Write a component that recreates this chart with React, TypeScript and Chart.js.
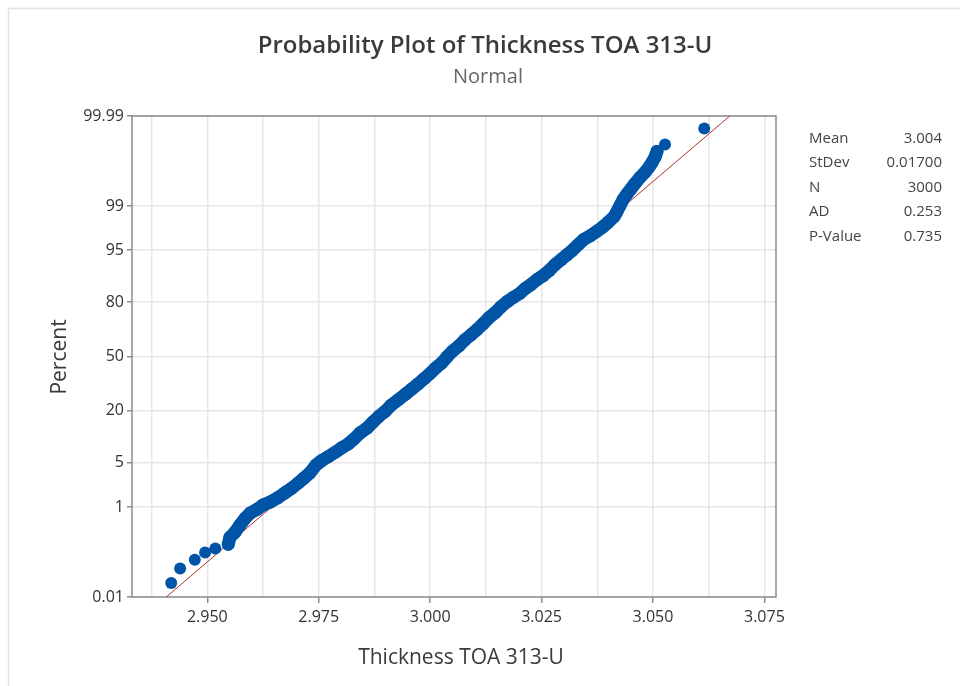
import React, { useEffect, useRef } from "react";
import { Chart, registerables } from "chart.js";

Chart.register(...registerables);

// ---------- data ----------
const chartTitle = "Probability Plot of Thickness TOA 313-U";
const chartSubtitle = "Normal";
const xAxisTitle = "Thickness TOA 313-U";
const yAxisTitle = "Percent";

// isolated low-tail observations
const lowTailThickness = [2.9419, 2.9439, 2.9472, 2.9495, 2.9518];
const lowTailPercent = [0.023, 0.052, 0.084, 0.122, 0.149];

// dense body of the sample (read along the band of points)
const bandThickness = [
  2.9547, 2.9551, 2.9562, 2.9573, 2.9585, 2.9596, 2.9612, 2.9625, 2.9641, 2.9659,
  2.9674, 2.969, 2.9704, 2.9717, 2.973, 2.9744, 2.9757, 2.9771, 2.9787, 2.9802,
  2.9816, 2.9829, 2.9843, 2.9859, 2.9872, 2.9886, 2.9899, 2.9912, 2.9928, 2.9944,
  2.9959, 2.9973, 2.9986, 3.0, 3.0013, 3.0025, 3.0038, 3.0051, 3.0065, 3.0078,
  3.0092, 3.0105, 3.0119, 3.0132, 3.0146, 3.0159, 3.0173, 3.0186, 3.02, 3.0213,
  3.0226, 3.024, 3.0253, 3.0267, 3.028, 3.0294, 3.0307, 3.0318, 3.0332, 3.0345,
  3.0359, 3.0372, 3.0386, 3.0399, 3.0413, 3.0419, 3.0426, 3.0433, 3.0442, 3.0451,
  3.046, 3.0471, 3.0482, 3.0491, 3.0498, 3.0505, 3.0509,
];
const bandPercent = [
  0.185, 0.26, 0.33, 0.455, 0.62, 0.77, 0.91, 1.08, 1.22, 1.46,
  1.75, 2.1, 2.52, 3.01, 3.58, 4.67, 5.39, 6.07, 6.93, 7.93,
  8.81, 10.1, 11.9, 13.5, 15.6, 17.9, 19.8, 22.5, 25.1, 27.9,
  30.8, 33.6, 36.5, 39.7, 43.1, 45.8, 49.8, 53.5, 56.6, 60.2,
  63.2, 66.1, 69.4, 72.6, 75.1, 77.9, 80.2, 81.9, 83.4, 85.3,
  86.7, 88.3, 89.4, 90.8, 92.2, 93.3, 94.2, 94.9, 95.8, 96.5,
  96.9, 97.3, 97.7, 98.09, 98.48, 98.75, 99.02, 99.24, 99.41, 99.53,
  99.63, 99.72, 99.78, 99.83, 99.866, 99.9, 99.924,
];

// isolated high-tail observations
const highTailThickness = [3.0527, 3.0615];
const highTailPercent = [99.948, 99.979];

// fitted normal line
const fitMean = 3.004;
const fitStDev = 0.017;

// statistics table
const statLabels = ["Mean", "StDev", "N", "AD", "P-Value"];
const statValues = ["3.004", "0.01700", "3000", "0.253", "0.735"];

// axes
const xMin = 2.9331;
const xMax = 3.0776;
const xGridValues = [2.9375, 2.95, 2.9625, 2.975, 2.9875, 3.0, 3.0125, 3.025, 3.0375, 3.05, 3.0625, 3.075];
const xLabelValues = [2.95, 2.975, 3.0, 3.025, 3.05, 3.075];
const yTickPercents = [0.01, 1, 5, 20, 50, 80, 95, 99, 99.99];
const yTickLabels = ["0.01", "1", "5", "20", "50", "80", "95", "99", "99.99"];

// ---------- helpers ----------
function probit(p: number): number {
  const a = [-3.969683028665376e1, 2.209460984245205e2, -2.759285104469687e2, 1.38357751867269e2, -3.066479806614716e1, 2.506628277459239];
  const b = [-5.447609879822406e1, 1.615858368580409e2, -1.556989798598866e2, 6.680131188771972e1, -1.328068155288572e1];
  const c = [-7.784894002430293e-3, -3.223964580411365e-1, -2.400758277161838, -2.549732539343734, 4.374664141464968, 2.938163982698783];
  const d = [7.784695709041462e-3, 3.224671290700398e-1, 2.445134137142996, 3.754408661907416];
  const pl = 0.02425;
  const ph = 1 - pl;
  if (p < pl) {
    const q = Math.sqrt(-2 * Math.log(p));
    return (((((c[0] * q + c[1]) * q + c[2]) * q + c[3]) * q + c[4]) * q + c[5]) / ((((d[0] * q + d[1]) * q + d[2]) * q + d[3]) * q + 1);
  }
  if (p <= ph) {
    const q = p - 0.5;
    const r = q * q;
    return ((((((a[0] * r + a[1]) * r + a[2]) * r + a[3]) * r + a[4]) * r + a[5]) * q) / (((((b[0] * r + b[1]) * r + b[2]) * r + b[3]) * r + b[4]) * r + 1);
  }
  const q = Math.sqrt(-2 * Math.log(1 - p));
  return -(((((c[0] * q + c[1]) * q + c[2]) * q + c[3]) * q + c[4]) * q + c[5]) / ((((d[0] * q + d[1]) * q + d[2]) * q + d[3]) * q + 1);
}

const toPoints = (xs: number[], ps: number[]) => xs.map((x, i) => ({ x, y: probit(ps[i] / 100) }));

const FONT = "'Open Sans', 'Noto Sans', sans-serif";
const BLUE = "#0054a6";

const textPlugin = {
  id: "textPlugin",
  beforeDraw(chart: any) {
    const ctx = chart.ctx;
    ctx.save();
    ctx.fillStyle = "#ffffff";
    ctx.fillRect(0, 0, chart.width, chart.height);
    ctx.strokeStyle = "#e2e2e2";
    ctx.lineWidth = 1.5;
    ctx.beginPath();
    ctx.moveTo(8.5, chart.height);
    ctx.lineTo(8.5, 8.5);
    ctx.lineTo(chart.width, 8.5);
    ctx.stroke();
    ctx.restore();
  },
  beforeDatasetsDraw(chart: any) {
    const { ctx, chartArea } = chart;
    ctx.save();
    ctx.strokeStyle = "#8c8c8c";
    ctx.lineWidth = 1.5;
    ctx.strokeRect(chartArea.left, chartArea.top, chartArea.right - chartArea.left, chartArea.bottom - chartArea.top);
    ctx.restore();
  },
  afterDraw(chart: any) {
    const ctx = chart.ctx;
    ctx.save();
    ctx.textAlign = "center";
    ctx.textBaseline = "alphabetic";
    ctx.fillStyle = "#3a3a3a";
    ctx.font = `600 24px ${FONT}`;
    ctx.fillText(chartTitle, 485, 53);
    ctx.fillStyle = "#666666";
    ctx.font = `20px ${FONT}`;
    ctx.fillText(chartSubtitle, 488, 83);
    ctx.fillStyle = "#3a3a3a";
    ctx.font = `21px ${FONT}`;
    ctx.fillText(xAxisTitle, 461, 664);
    ctx.save();
    ctx.translate(66, 357);
    ctx.rotate(-Math.PI / 2);
    ctx.fillText(yAxisTitle, 0, 0);
    ctx.restore();
    ctx.font = `15px ${FONT}`;
    ctx.fillStyle = "#444444";
    statLabels.forEach((lab, i) => {
      const y = 143 + i * 24.4;
      ctx.textAlign = "left";
      ctx.fillText(lab, 809, y);
      ctx.textAlign = "right";
      ctx.fillText(statValues[i], 942, y);
    });
    ctx.restore();
  },
};

export default function App() {
  const ref = useRef<HTMLCanvasElement | null>(null);
  useEffect(() => {
    if (!ref.current) return;
    const zMin = probit(yTickPercents[0] / 100);
    const zMax = probit(yTickPercents[yTickPercents.length - 1] / 100);
    const chart = new Chart(ref.current, {
      type: "scatter",
      data: {
        datasets: [
          {
            label: "fit",
            type: "line",
            data: [
              { x: fitMean + zMin * fitStDev, y: zMin },
              { x: fitMean + zMax * fitStDev, y: zMax },
            ],
            borderColor: "#b0302b",
            borderWidth: 1,
            pointRadius: 0,
            order: 3,
          } as any,
          {
            label: "band",
            data: toPoints(bandThickness, bandPercent),
            showLine: true,
            borderColor: BLUE,
            borderWidth: 13,
            borderCapStyle: "round",
            borderJoinStyle: "round",
            pointRadius: 6.5,
            pointBackgroundColor: BLUE,
            pointBorderWidth: 0,
            order: 1,
          } as any,
          {
            label: "tails",
            data: [...toPoints(lowTailThickness, lowTailPercent), ...toPoints(highTailThickness, highTailPercent)],
            pointRadius: 6,
            pointBackgroundColor: BLUE,
            pointBorderWidth: 0,
            order: 1,
          } as any,
        ],
      },
      options: {
        animation: false,
        responsive: false,
        layout: { padding: { left: 0, top: 116, right: 184, bottom: 49 } },
        plugins: { legend: { display: false }, tooltip: { enabled: false }, title: { display: false } },
        scales: {
          x: {
            type: "linear",
            min: xMin,
            max: xMax,
            afterFit: (s: any) => {
              s.height = 40;
            },
            afterBuildTicks: (s: any) => {
              s.ticks = xGridValues.map((v) => ({ value: v }));
            },
            ticks: {
              autoSkip: false,
              maxRotation: 0,
              padding: 5,
              color: "#333333",
              font: { family: FONT, size: 16 },
              callback: (v: any) => {
                const n = Number(v);
                return xLabelValues.some((l) => Math.abs(l - n) < 1e-6) ? n.toFixed(3) : "";
              },
            },
            grid: {
              color: "#e6e6e6",
              lineWidth: 1.5,
              drawTicks: true,
              tickLength: 6,
              tickWidth: 1.5,
              tickColor: (c: any) => {
                const v = c.tick ? c.tick.value : NaN;
                return xLabelValues.some((l) => Math.abs(l - v) < 1e-6) ? "#8c8c8c" : "rgba(0,0,0,0)";
              },
            },
            border: { display: false },
          },
          y: {
            type: "linear",
            min: zMin,
            max: zMax,
            afterFit: (s: any) => {
              s.width = 132;
            },
            afterBuildTicks: (s: any) => {
              s.ticks = yTickPercents.map((p) => ({ value: probit(p / 100) }));
            },
            ticks: {
              autoSkip: false,
              padding: 3,
              color: "#333333",
              font: { family: FONT, size: 16 },
              callback: (_v: any, i: number) => yTickLabels[i],
            },
            grid: {
              color: "#e6e6e6",
              lineWidth: 1.5,
              drawTicks: true,
              tickLength: 5,
              tickWidth: 1.5,
              tickColor: "#8c8c8c",
            },
            border: { display: false },
          },
        },
      },
      plugins: [textPlugin],
    });
    return () => chart.destroy();
  }, []);
  return (
    <div style={{ position: "absolute", left: 0, top: 0, width: 960, height: 686 }}>
      <canvas ref={ref} width={960} height={686} style={{ display: "block" }} />
    </div>
  );
}
